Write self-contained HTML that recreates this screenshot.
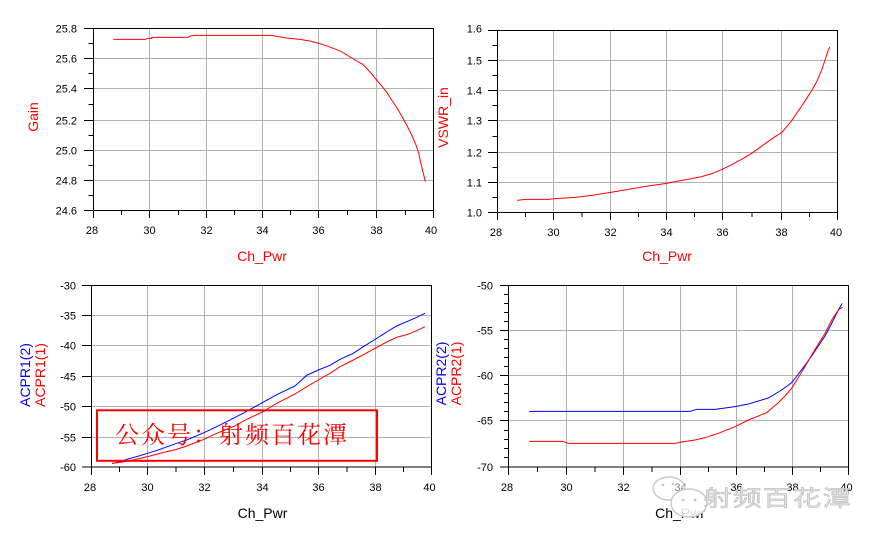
<!DOCTYPE html>
<html><head><meta charset="utf-8"><style>
html,body{margin:0;padding:0;background:#fff;}
svg{display:block;}
text{font-family:"Liberation Sans",Arial,sans-serif;}
</style></head><body>
<svg width="875" height="544" viewBox="0 0 875 544" xmlns="http://www.w3.org/2000/svg">
<rect width="875" height="544" fill="#fff"/>

<!-- ============ PLOT 1 : Gain ============ -->
<g shape-rendering="crispEdges" fill="none">
<path stroke="#b0b0b0" d="M149.5 28.5V210.5M206.5 28.5V210.5M262.5 28.5V210.5M318.5 28.5V210.5M376.5 28.5V210.5M93.5 58.5H433.5M93.5 88.5H433.5M93.5 120.5H433.5M93.5 150.5H433.5M93.5 180.5H433.5"/>
<rect x="93.5" y="28.5" width="340" height="182" stroke="#000"/>
<path stroke="#000" d="M84 28.5H93.5M84 58.5H93.5M84 88.5H93.5M84 120.5H93.5M84 150.5H93.5M84 180.5H93.5M84 210.5H93.5M88.5 43.5H93.5M88.5 73.5H93.5M88.5 104.5H93.5M88.5 135.5H93.5M88.5 165.5H93.5M88.5 195.5H93.5M93.5 210.5V218M149.5 210.5V218M206.5 210.5V218M262.5 210.5V218M318.5 210.5V218M376.5 210.5V218M433.5 210.5V218M121.5 210.5V215M178.5 210.5V215M234.5 210.5V215M290.5 210.5V215M347.5 210.5V215M405.5 210.5V215"/>
</g>
<g font-size="11" fill="#000" text-anchor="end">
<text x="77" y="32.5">25.8</text><text x="77" y="62.5">25.6</text><text x="77" y="92.5">25.4</text><text x="77" y="124.5">25.2</text><text x="77" y="154.5">25.0</text><text x="77" y="184.5">24.8</text><text x="77" y="214.5">24.6</text>
</g>
<g font-size="11" fill="#000" text-anchor="middle">
<text x="92" y="234">28</text><text x="149.5" y="234">30</text><text x="206.5" y="234">32</text><text x="262.5" y="234">34</text><text x="318.5" y="234">36</text><text x="376.5" y="234">38</text><text x="431" y="234">40</text>
</g>
<text x="262" y="261" font-size="14" fill="#ff0000" text-anchor="middle">Ch_Pwr</text>
<text transform="translate(38,117) rotate(-90)" font-size="14" fill="#ff0000" text-anchor="middle">Gain</text>
<g transform="scale(0.33333)">
<polyline fill="none" stroke="#ff0000" stroke-width="1" vector-effect="non-scaling-stroke" points="340,118 437,118 440,115 455,115 455,112 565,112 570,108 585,106 815,106 835,110 860,114 900,118 935,124 956,130 975,136 1000,145 1025,155 1045,168 1065,180 1088,193 1100,205 1115,222 1130,240 1145,258 1160,277 1175,300 1190,322 1205,348 1220,375 1235,405 1248,435 1256,460 1262,488 1268,512 1276,545"/>
</g>

<!-- ============ PLOT 2 : VSWR ============ -->
<g shape-rendering="crispEdges" fill="none">
<path stroke="#b0b0b0" d="M553.5 30.5V212.5M610.5 30.5V212.5M666.5 30.5V212.5M722.5 30.5V212.5M781.5 30.5V212.5M497.5 60.5H837.5M497.5 90.5H837.5M497.5 120.5H837.5M497.5 152.5H837.5M497.5 182.5H837.5"/>
<rect x="497.5" y="30.5" width="340" height="182" stroke="#000"/>
<path stroke="#000" d="M488 30.5H497.5M488 60.5H497.5M488 90.5H497.5M488 120.5H497.5M488 152.5H497.5M488 182.5H497.5M488 212.5H497.5M492.5 45.5H497.5M492.5 75.5H497.5M492.5 105.5H497.5M492.5 136.5H497.5M492.5 167.5H497.5M492.5 197.5H497.5M497.5 212.5V220M553.5 212.5V220M610.5 212.5V220M666.5 212.5V220M722.5 212.5V220M781.5 212.5V220M837.5 212.5V220M525.5 212.5V217M582 212.5V217M638.5 212.5V217M694.5 212.5V217M752 212.5V217M809.5 212.5V217"/>
</g>
<g font-size="11" fill="#000" text-anchor="end">
<text x="482" y="32.5">1.6</text><text x="482" y="64.5">1.5</text><text x="482" y="94.5">1.4</text><text x="482" y="124.5">1.3</text><text x="482" y="156.5">1.2</text><text x="482" y="186.5">1.1</text><text x="482" y="216.5">1.0</text>
</g>
<g font-size="11" fill="#000" text-anchor="middle">
<text x="496" y="236">28</text><text x="553.5" y="236">30</text><text x="610.5" y="236">32</text><text x="666.5" y="236">34</text><text x="722.5" y="236">36</text><text x="781.5" y="236">38</text><text x="836" y="236">40</text>
</g>
<text x="667" y="261" font-size="14" fill="#ff0000" text-anchor="middle">Ch_Pwr</text>
<text transform="translate(448,117.5) rotate(-90)" font-size="14" fill="#ff0000" text-anchor="middle">VSWR_in</text>
<g transform="translate(435,0) scale(0.33333)">
<polyline fill="none" stroke="#ff0000" stroke-width="1" vector-effect="non-scaling-stroke" points="247,601 270,598 340,598 360,596 420,592 440,590 470,586 527,577 580,568 640,558 695,550 730,543 770,536 800,530 830,521 862,508 890,494 920,478 950,460 975,442 1000,424 1020,410 1040,398 1055,380 1070,362 1085,340 1100,318 1115,295 1130,272 1145,245 1160,210 1170,180 1178,155 1184,141"/>
</g>

<!-- ============ PLOT 3 : ACPR1 ============ -->
<g shape-rendering="crispEdges" fill="none">
<path stroke="#b0b0b0" d="M147.5 285.5V467M204.5 285.5V467M262.5 285.5V467M318.5 285.5V467M375.5 285.5V467M91.5 315.5H431.5M91.5 345.5H431.5M91.5 376.5H431.5M91.5 406.5H431.5M91.5 437.5H431.5"/>
<rect x="91.5" y="285.5" width="340" height="181.5" stroke="#000"/>
<path stroke="#000" d="M82 285.5H91.5M82 315.5H91.5M82 345.5H91.5M82 376.5H91.5M82 406.5H91.5M82 437.5H91.5M82 467H91.5M91.5 467V475M147.5 467V475M204.5 467V475M262.5 467V475M318.5 467V475M375.5 467V475M431.5 467V475M119.5 467V472M176 467V472M233.5 467V472M290.5 467V472M347 467V472M403.5 467V472"/>
</g>
<g font-size="11" fill="#000" text-anchor="end">
<text x="76" y="289.5">-30</text><text x="76" y="319.5">-35</text><text x="76" y="349.5">-40</text><text x="76" y="380.5">-45</text><text x="76" y="410.5">-50</text><text x="76" y="441.5">-55</text><text x="76" y="471">-60</text>
</g>
<g font-size="11" fill="#000" text-anchor="middle">
<text x="90" y="491">28</text><text x="147.5" y="491">30</text><text x="204.5" y="491">32</text><text x="262.5" y="491">34</text><text x="318.5" y="491">36</text><text x="375.5" y="491">38</text><text x="429.5" y="491">40</text>
</g>
<text x="262.5" y="518" font-size="14" fill="#000" text-anchor="middle">Ch_Pwr</text>
<text transform="translate(30,375) rotate(-90)" font-size="14" fill="#0000ff" text-anchor="middle">ACPR1(2)</text>
<text transform="translate(45,375) rotate(-90)" font-size="14" fill="#ff0000" text-anchor="middle">ACPR1(1)</text>
<g transform="translate(0,270) scale(0.33333)" fill="none" stroke-width="1">
<polyline stroke="#0000ff" vector-effect="non-scaling-stroke" points="336,580 360,576 380,568 410,560 443,550 480,538 530,520 560,510 612,488 650,470 700,445 740,424 787,398 830,374 885,348 920,316 955,300 990,286 1020,268 1060,250 1090,230 1127,207 1160,186 1190,168 1220,155 1250,142 1275,130"/>
<polyline stroke="#ff0000" vector-effect="non-scaling-stroke" points="336,580 360,577 390,572 443,560 480,550 530,538 560,528 612,508 650,490 700,470 740,448 787,426 830,400 885,372 920,350 955,330 990,310 1020,290 1060,270 1090,254 1127,234 1160,216 1190,202 1220,194 1250,182 1275,170"/>
</g>
<!-- watermark box -->
<rect x="97" y="410.3" width="280" height="50.5" fill="none" stroke="#ff0000" stroke-width="2"/>
<text x="115" y="443" font-size="24" fill="#ff0000" letter-spacing="2" style="font-family:'Noto Serif CJK SC','Liberation Serif',serif;">公众号：射频百花潭</text>

<!-- ============ PLOT 4 : ACPR2 ============ -->
<g shape-rendering="crispEdges" fill="none">
<path stroke="#b0b0b0" d="M566.5 285.5V467M623.5 285.5V467M680.5 285.5V467M736.5 285.5V467M792.5 285.5V467M508.5 330.5H848.5M508.5 375.5H848.5M508.5 420.5H848.5"/>
<rect x="508.5" y="285.5" width="340" height="181.5" stroke="#000"/>
<path stroke="#000" d="M500 285.5H508.5M500 330.5H508.5M500 375.5H508.5M500 420.5H508.5M500 467H508.5M504 294.5H508.5M504 303.5H508.5M504 312.5H508.5M504 321.5H508.5M504 339.5H508.5M504 348.5H508.5M504 357.5H508.5M504 366.5H508.5M504 384.5H508.5M504 393.5H508.5M504 402.5H508.5M504 411.5H508.5M504 430.5H508.5M504 439.5H508.5M504 448.5H508.5M504 457.5H508.5M508.5 467V475M566.5 467V475M623.5 467V475M680.5 467V475M736.5 467V475M792.5 467V475M848.5 467V475M537.5 467V472M595 467V472M652 467V472M708.5 467V472M764.5 467V472M820.5 467V472"/>
</g>
<g font-size="11" fill="#000" text-anchor="end">
<text x="493" y="289.5">-50</text><text x="493" y="334.5">-55</text><text x="493" y="379.5">-60</text><text x="493" y="424.5">-65</text><text x="493" y="471">-70</text>
</g>
<g font-size="11" fill="#000" text-anchor="middle">
<text x="507" y="491">28</text><text x="566.5" y="491">30</text><text x="623.5" y="491">32</text><text x="680.5" y="491">34</text><text x="736.5" y="491">36</text><text x="792.5" y="491">38</text><text x="846.5" y="491">40</text>
</g>
<text x="680" y="518" font-size="14" fill="#000" text-anchor="middle">Ch_Pwr</text>
<text transform="translate(446,373.5) rotate(-90)" font-size="14" fill="#0000ff" text-anchor="middle">ACPR2(2)</text>
<text transform="translate(461,373.5) rotate(-90)" font-size="14" fill="#ff0000" text-anchor="middle">ACPR2(1)</text>
<g transform="translate(435,270) scale(0.33333)" fill="none" stroke-width="1">
<polyline stroke="#0000ff" vector-effect="non-scaling-stroke" points="283,424 765,424 785,418 840,418 900,410 940,402 1000,384 1040,360 1070,338 1090,312 1110,286 1130,258 1150,228 1170,198 1190,160 1210,120 1222,100"/>
<polyline stroke="#ff0000" vector-effect="non-scaling-stroke" points="283,514 383,514 400,520 720,520 740,516 780,510 810,503 850,490 900,470 940,450 995,428 1030,398 1050,378 1070,355 1090,322 1110,290 1130,255 1150,222 1170,190 1190,150 1210,120 1222,112"/>
</g>

<!-- WeChat-style watermark -->
<g>
<ellipse cx="669" cy="488.5" rx="16" ry="11.5" fill="#fff" fill-opacity="0.5" stroke="#c8c8c8" stroke-width="1.4"/>
<circle cx="663" cy="485" r="1.4" fill="#c8c8c8"/>
<circle cx="673" cy="484" r="1.4" fill="#c8c8c8"/>
<ellipse cx="689" cy="503" rx="18" ry="14" fill="#fff" fill-opacity="0.85" stroke="#c8c8c8" stroke-width="1.4"/>
<circle cx="683" cy="500" r="1.4" fill="#c8c8c8"/>
<circle cx="695" cy="500" r="1.4" fill="#c8c8c8"/>
<text transform="translate(703,506) scale(1.3,1)" font-size="22" fill="#e2e2e2" stroke="#b4b4b4" stroke-width="0.5" letter-spacing="1" style="font-family:'Noto Sans CJK SC','WenQuanYi Zen Hei',sans-serif;">射频百花潭</text>
</g>
</svg>
</body></html>
